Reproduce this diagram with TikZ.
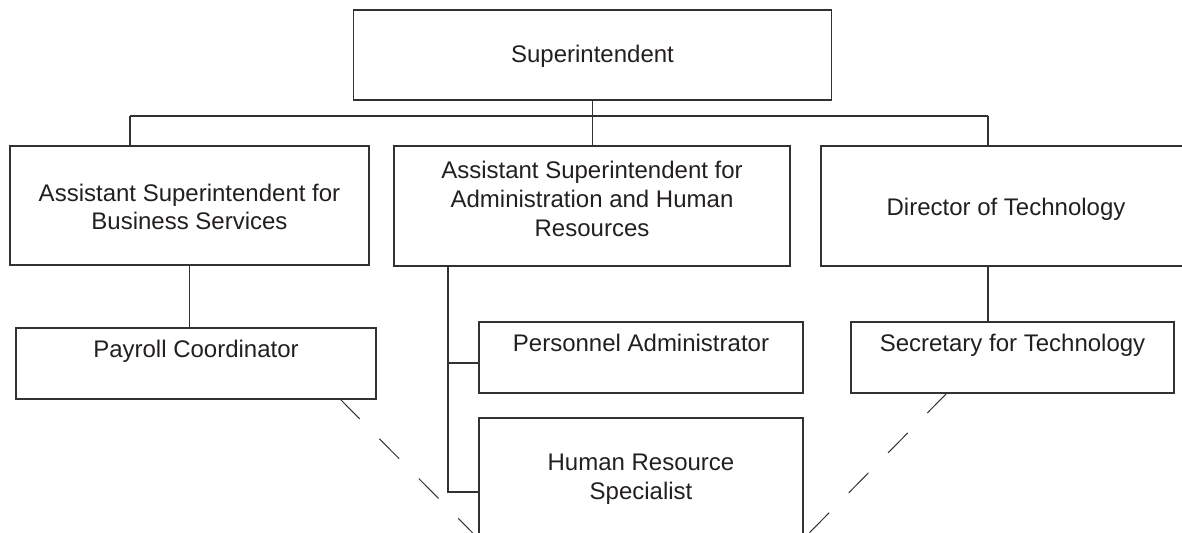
\documentclass[tikz,border=0pt]{standalone}
\usepackage{fontspec}
\setmainfont{Liberation Sans}
\definecolor{ink}{RGB}{35,31,32}
\definecolor{edge}{RGB}{50,50,50}
\begin{document}
\begin{tikzpicture}[x=0.5pt,y=-0.5pt,
  box/.style={draw=edge, line width=0.65pt, rectangle, inner sep=0pt, align=center,
    text=ink, font=\fontsize{12}{14.3}\selectfont},
  lbl/.style={text=ink, font=\fontsize{12}{14.3}\selectfont, inner sep=0pt, anchor=base},
  conn/.style={draw=edge, line width=0.55pt},
  dashconn/.style={draw=edge, line width=0.5pt, dash pattern=on 14pt off 14pt}]
\useasboundingbox (0,0) rectangle (1182,533);
\clip (0,0) rectangle (1182,533);
% boxes
\node[box, minimum width=239pt, minimum height=45pt] (sup) at (592.5,55) {};
\node[box, minimum width=179.5pt, minimum height=59.5pt] (a1) at (189.5,205.5) {};
\node[box, minimum width=198pt, minimum height=60pt] (a2) at (592,206) {};
\node[box, minimum width=185pt, minimum height=60pt] (a3) at (1006,206) {};
\node[box, minimum width=180pt, minimum height=35.5pt] (pay) at (196,363.5) {};
\node[box, minimum width=162pt, minimum height=35.5pt] (per) at (641,357.5) {};
\node[box, minimum width=161.5pt, minimum height=35.5pt] (sec) at (1012.5,357.5) {};
\node[box, minimum width=162pt, minimum height=60pt] (hr) at (641,478) {};
% texts
\node[lbl] (supt) at (592.5,63) {Superintendent};
\node[box, draw=none] (a1t) at (189.5,207) {Assistant Superintendent for\\Business Services};
\node[box, draw=none] (a2t) at (592,199) {Assistant Superintendent for\\Administration and Human\\Resources};
\node[lbl] (a3t) at (1006,216) {Director of Technology};
\node[lbl] (payt) at (196,358) {Payroll Coordinator};
\node[lbl] (pert) at (641,352) {Personnel Administrator};
\node[lbl] (sect) at (1012.5,352) {Secretary for Technology};
\node[box, draw=none] (hrt) at (641,479) {Human Resource\\Specialist};
% connector points
\coordinate (busL) at (130,116);
\coordinate (busR) at (988,116);
\coordinate (bus) at (sup.south |- busL);
\coordinate (trunk) at (448,266);
\coordinate (trunkE) at (448,492);
\coordinate (trunkM) at (448,363);
\coordinate (pd) at (340,399);
\coordinate (sd) at (947,393);
% connectors
\draw[conn] (sup.south) -- (bus);
\draw[conn] (busL) -- (busR);
\draw[conn] (busL) -- (busL |- a1.north);
\draw[conn] (bus) -- (bus |- a2.north);
\draw[conn] (busR) -- (busR |- a3.north);
\draw[conn] (a1.south) -- (a1.south |- pay.north);
\draw[conn] (trunk) -- (trunkE) -- (trunkE -| hr.west);
\draw[conn] (trunkM) -- (trunkM -| per.west);
\draw[conn] (busR |- a3.south) -- (busR |- sec.north);
\draw[dashconn] (pd) -- (hr.south west);
\draw[dashconn] (sd) -- (hr.south east);
\end{tikzpicture}
\end{document}
